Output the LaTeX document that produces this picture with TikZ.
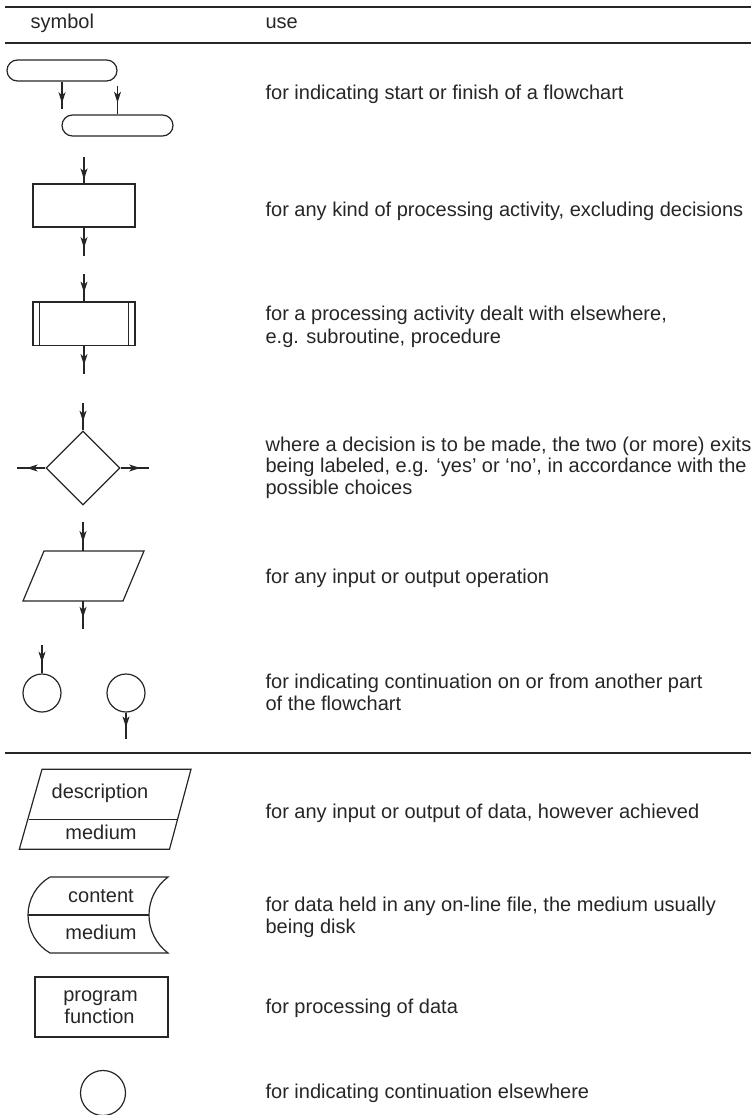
\documentclass[tikz,border=0pt]{standalone}
\usepackage{fontspec}
\setmainfont{Liberation Sans}
\usetikzlibrary{shapes.geometric,arrows.meta,decorations.markings}
\definecolor{ink}{HTML}{262626}
\begin{document}
\begin{tikzpicture}[x=1pt,y=-1pt, line width=1.2pt, draw=ink, text=ink,
  txt/.style={anchor=base west, inner sep=0pt, font=\fontsize{20}{23}\selectfont},
  lbl/.style={anchor=base, inner sep=0pt, font=\fontsize{20}{23}\selectfont},
  rulel/.style={line width=1.7pt},
  box/.style={draw, rectangle, inner sep=0pt},
  arr/.style={postaction={decorate},decoration={markings,mark=at position #1 with {\arrow{Stealth[length=11pt,width=7pt,inset=3pt]}}}},
]
\useasboundingbox (0,0) rectangle (751,1115);

% header
\draw[rulel] (5,7) coordinate (h1l) -- (751,7) coordinate (h1r);
\node[txt] (hs) at (30,28.3) {symbol};
\node[txt] (hu) at (265,28.3) {use};
\draw[rulel] (5,43) coordinate (h2l) -- (751,43) coordinate (h2r);

% terminators
\node[box, rounded corners=10.5pt, minimum width=110pt, minimum height=21pt] (term1) at (62,70.5) {};
\node[box, rounded corners=10.5pt, minimum width=111pt, minimum height=21pt] (term2) at (117.5,125.5) {};
\coordinate (a1e) at (62,109);
\coordinate (a2s) at (117.5,86);
\draw[arr=0.79] (term1.south) -- (a1e);
\draw[arr=0.59] (a2s) -- (term2.north);
\node[txt] (t1) at (265,100) {for indicating start or finish of a flowchart};

% process
\coordinate (p1s) at (84,157);
\node[box, minimum width=102pt, minimum height=43pt] (proc) at (84,205.5) {};
\coordinate (p1e) at (84,256);
\draw[arr=0.85] (p1s) -- (proc.north);
\draw[arr=0.72] (proc.south) -- (p1e);
\node[txt] (t2) at (265,216.5) {for any kind of processing activity, excluding decisions};

% predefined process
\coordinate (p2s) at (84,274);
\node[box, minimum width=102pt, minimum height=43.5pt] (pre) at (84,323.75) {};
\draw ([xshift=7pt]pre.north west) -- ([xshift=7pt]pre.south west);
\draw ([xshift=-7pt]pre.north east) -- ([xshift=-7pt]pre.south east);
\coordinate (p2e) at (84,374);
\draw[arr=0.68] (p2s) -- (pre.north);
\draw[arr=0.68] (pre.south) -- (p2e);
\node[txt] (t3a) at (265,320) {for a processing activity dealt with elsewhere,};
\node[txt] (t3b) at (265,343) {e.g. subroutine, procedure};

% decision
\coordinate (d1s) at (83,403);
\node[draw, diamond, minimum width=74pt, minimum height=74pt, inner sep=0pt] (dec) at (83,468) {};
\coordinate (dl) at (17,468);
\coordinate (dr) at (149,468);
\draw[arr=0.68] (d1s) -- (dec.north);
\draw[arr=0.66] (dec.west) -- (dl);
\draw[arr=0.69] (dec.east) -- (dr);
\node[txt] (t4a) at (265,451) {where a decision is to be made, the two (or more) exits};
\node[txt] (t4b) at (265,472.5) {being labeled, e.g. ‘yes’ or ‘no’, in accordance with the};
\node[txt] (t4c) at (265,494) {possible choices};

% input/output
\coordinate (io1) at (44,551);
\coordinate (io2) at (144,551);
\coordinate (io3) at (123,601);
\coordinate (io4) at (23,601);
\draw (io1) -- (io2) -- (io3) -- (io4) -- cycle;
\coordinate (iot) at (83,551);
\coordinate (iob) at (83,601);
\coordinate (ios) at (83,522);
\coordinate (ioe) at (83,629);
\draw[arr=0.69] (ios) -- (iot);
\draw[arr=0.6] (iob) -- (ioe);
\node[txt] (t5) at (265,583) {for any input or output operation};

% connectors
\node[draw, circle, minimum size=38pt, inner sep=0pt] (c1) at (42,693) {};
\node[draw, circle, minimum size=38pt, inner sep=0pt] (c2) at (126,693) {};
\coordinate (c1s) at (42,645);
\coordinate (c2e) at (126,739);
\draw[arr=0.62] (c1s) -- (c1.north);
\draw[arr=0.56] (c2.south) -- (c2e);
\node[txt] (t6a) at (265,688) {for indicating continuation on or from another part};
\node[txt] (t6b) at (265,710) {of the flowchart};

% separator
\draw[rulel] (5,753) coordinate (h3l) -- (751,753) coordinate (h3r);

% data input/output
\coordinate (dd1) at (42,769.3);
\coordinate (dd2) at (191,769.3);
\coordinate (dd3) at (169.5,849.3);
\coordinate (dd4) at (19.3,849.3);
\coordinate (ddl) at (28.5,819.3);
\coordinate (ddr) at (177.5,819.3);
\draw (dd1) -- (dd2) -- (dd3) -- (dd4) -- cycle;
\draw (ddl) -- (ddr);
\node[lbl] (ddesc) at (100,798.3) {description};
\node[lbl] (dmed) at (101,839) {medium};
\node[txt] (t7) at (265,818.3) {for any input or output of data, however achieved};

% on-line storage
\coordinate (s1) at (50,877);
\coordinate (s2) at (168,877);
\coordinate (s3) at (168,953);
\coordinate (s4) at (50,953);
\coordinate (sl) at (28,915);
\coordinate (sr) at (149,915);
\draw (s1) -- (s2) .. controls (156,886) and (149,900) .. (sr)
      .. controls (149,930) and (156,944) .. (s3) -- (s4)
      .. controls (36.4,945.2) and (28,930.6) .. (sl)
      .. controls (28,899.4) and (36.4,884.8) .. (s1);
\draw (sl) -- (sr);
\node[lbl] (scont) at (101,902.7) {content};
\node[lbl] (smed) at (101,939.3) {medium};
\node[txt] (t8a) at (265,911.7) {for data held in any on-line file, the medium usually};
\node[txt] (t8b) at (265,933.5) {being disk};

% program function
\node[box, minimum width=133pt, minimum height=60pt] (pf) at (101.5,1007) {};
\node[lbl] (pf1) at (100.5,1001.7) {program};
\node[lbl] (pf2) at (99.5,1023.3) {function};
\node[txt] (t9) at (265,1013) {for processing of data};

% continuation elsewhere
\node[draw, circle, minimum size=45pt, inner sep=0pt] (c3) at (103,1093) {};
\node[txt] (t10) at (265,1098) {for indicating continuation elsewhere};
\end{tikzpicture}
\end{document}
